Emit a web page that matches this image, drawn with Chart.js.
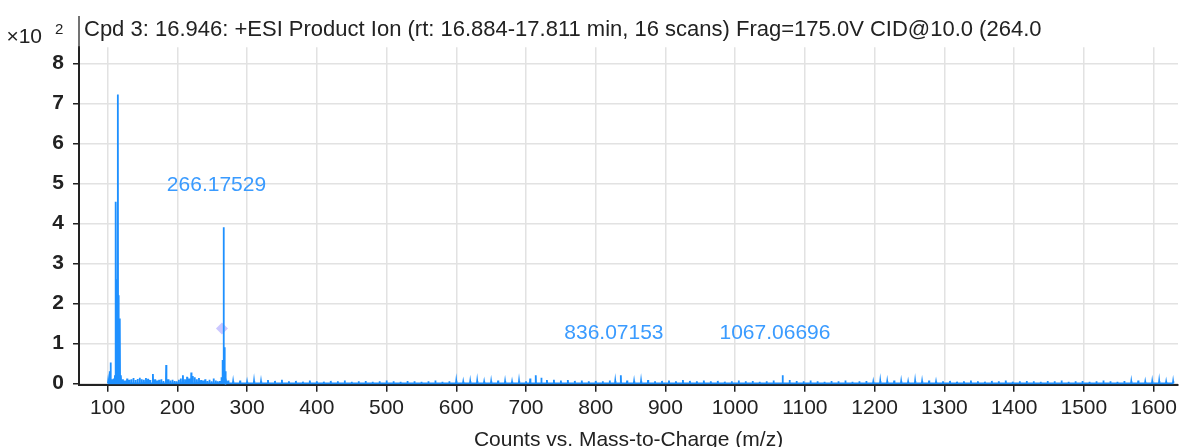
<!DOCTYPE html>
<html><head><meta charset="utf-8">
<script src="https://cdn.jsdelivr.net/npm/chart.js@4.4.1/dist/chart.umd.min.js"></script>
<style>html,body{margin:0;padding:0;background:#fff;overflow:hidden}#wrap{width:1184px;height:447px;position:relative}</style>
</head><body><div id="wrap"><canvas id="c" width="1184" height="447"></canvas></div>
<script>
const titleText = "Cpd 3: 16.946: +ESI Product Ion (rt: 16.884-17.811 min, 16 scans) Frag=175.0V CID@10.0 (264.0";
const xAxisTitle = "Counts vs. Mass-to-Charge (m/z)";
const yMultiplier = "\u00d710";
const yExponent = "2";

// spectrum sticks: m/z and intensity (x10^2 counts)
const spectrumMz = [
  100.8, 102.9, 104.3, 106.2, 108.5, 110.5, 111.8, 113.0, 114.7, 115.9, 117.5, 119.2,
  122, 125, 128, 131, 134, 137, 140, 143, 146, 149, 152, 155, 158, 161, 165, 168, 171, 174, 177, 180,
  184, 187, 190, 193, 196, 199, 202, 205, 208, 211, 214, 217, 220, 222, 225, 228, 231, 234, 237, 240,
  243, 246, 249, 252, 255, 258, 261, 263.2, 264.8, 266.2, 267.3, 268.6, 270, 273,
  280, 290, 300, 310, 320, 330, 340, 350, 360, 370, 380, 390, 400, 410, 420, 430, 440, 450, 460, 470,
  480, 490, 500, 510, 520, 530, 540, 550, 560, 570, 580, 590, 600, 610, 620, 630, 640, 650, 660, 670,
  680, 690, 700, 706, 714, 722, 730, 740, 750, 760, 770, 780, 790, 800, 810, 820, 828, 836, 845, 855,
  865, 875, 885, 895, 905, 915, 925, 935, 945, 955, 965, 975, 985, 995, 1005, 1015, 1025, 1035, 1045, 1055,
  1068, 1078, 1088, 1098, 1108, 1118, 1128, 1138, 1148, 1158, 1168, 1178, 1188, 1198, 1208, 1218, 1228, 1238, 1248, 1258,
  1268, 1278, 1288, 1298, 1308, 1318, 1328, 1338, 1348, 1358, 1368, 1378, 1388, 1398, 1408, 1418, 1428, 1438, 1448, 1458,
  1468, 1478, 1488, 1498, 1508, 1518, 1528, 1538, 1548, 1558, 1568, 1578, 1588, 1598, 1608, 1618, 1628
];
const spectrumIntensity = [
  0.06, 0.30, 0.52, 0.10, 0.12, 0.20, 4.54, 2.60, 7.22, 2.20, 1.62, 0.20,
  0.10, 0.07, 0.12, 0.09, 0.10, 0.13, 0.08, 0.11, 0.14, 0.10, 0.09, 0.13, 0.11, 0.08, 0.23, 0.10, 0.07, 0.09, 0.10, 0.06,
  0.46, 0.10, 0.07, 0.09, 0.06, 0.05, 0.09, 0.12, 0.20, 0.10, 0.16, 0.12, 0.27, 0.18, 0.15, 0.10, 0.13, 0.08, 0.07, 0.10,
  0.06, 0.09, 0.05, 0.12, 0.07, 0.05, 0.06, 0.15, 0.58, 3.90, 0.90, 0.30, 0.05, 0.07,
  0.05, 0.07, 0.04, 0.06, 0.05, 0.08, 0.06, 0.09, 0.05, 0.06, 0.04, 0.07, 0.05, 0.04, 0.06, 0.05, 0.07, 0.04, 0.05, 0.06,
  0.04, 0.05, 0.07, 0.05, 0.04, 0.06, 0.05, 0.04, 0.05, 0.07, 0.04, 0.05, 0.06, 0.04, 0.05, 0.06, 0.04, 0.05, 0.07, 0.05,
  0.04, 0.06, 0.05, 0.12, 0.20, 0.14, 0.08, 0.09, 0.07, 0.08, 0.06, 0.07, 0.05, 0.06, 0.05, 0.07, 0.06, 0.20, 0.07, 0.05,
  0.06, 0.08, 0.05, 0.06, 0.07, 0.05, 0.08, 0.06, 0.05, 0.07, 0.05, 0.06, 0.04, 0.05, 0.07, 0.05, 0.06, 0.04, 0.05, 0.07,
  0.20, 0.08, 0.06, 0.05, 0.07, 0.05, 0.04, 0.06, 0.05, 0.07, 0.04, 0.05, 0.06, 0.04, 0.06, 0.05, 0.07, 0.05, 0.04, 0.06,
  0.05, 0.07, 0.04, 0.05, 0.06, 0.04, 0.05, 0.07, 0.05, 0.04, 0.06, 0.05, 0.07, 0.04, 0.05, 0.06, 0.05, 0.04, 0.06, 0.05,
  0.07, 0.04, 0.05, 0.06, 0.04, 0.05, 0.07, 0.05, 0.04, 0.06, 0.05, 0.07, 0.04, 0.05, 0.06, 0.04, 0.05
];

// labelled peaks
const labelMz = [266.17529, 836.07153, 1067.06696];
const labelText = ["266.17529", "836.07153", "1067.06696"];
const labelPeakHeight = [3.90, 0.20, 0.20];

// precursor marker
const precursorMz = [264.0];
const precursorY = [1.37];

// axis ranges / ticks
const xMin = 59, xMax = 1635, xStep = 100;
const yMin = -0.035, yMax = 8.4, yStep = 1;

const FONT = "'Liberation Sans', Arial, Helvetica, sans-serif";
const BLUE = "#1e90ff";

const points = [];
spectrumMz.forEach((m, i) => {
  points.push({x: m - 0.4, y: 0});
  points.push({x: m, y: spectrumIntensity[i]});
  points.push({x: m + 0.4, y: 0});
});
const precursorPoints = precursorMz.map((m, i) => ({x: m, y: precursorY[i]}));

const decor = {
  id: 'decor',
  afterDraw(chart) {
    const ctx = chart.ctx;
    const xs = chart.scales.x, ys = chart.scales.y;
    ctx.save();
    ctx.fillStyle = '#222';
    ctx.font = '22px ' + FONT;
    ctx.textBaseline = 'middle';
    ctx.textAlign = 'left';
    ctx.fillText(titleText, 84, 30);
    ctx.strokeStyle = '#444';
    ctx.lineWidth = 1.5;
    ctx.beginPath(); ctx.moveTo(79, 16); ctx.lineTo(79, chart.chartArea.top); ctx.stroke();
    ctx.font = '21px ' + FONT;
    ctx.textAlign = 'right';
    ctx.fillText(yMultiplier, 42, 37);
    ctx.font = '15px ' + FONT;
    ctx.textAlign = 'left';
    ctx.fillText(yExponent, 55, 30);
    ctx.fillStyle = '#3a9bff';
    ctx.font = '21px ' + FONT;
    ctx.textAlign = 'center';
    labelMz.forEach((m, i) => {
      ctx.fillText(labelText[i], xs.getPixelForValue(m - 10), ys.getPixelForValue(labelPeakHeight[i] + 1.05));
    });
    ctx.restore();
  }
};

new Chart(document.getElementById('c'), {
  type: 'line',
  data: {
    datasets: [
      {
        data: precursorPoints,
        showLine: false,
        pointStyle: 'rectRot',
        pointRadius: 6,
        pointBackgroundColor: 'rgba(185,180,255,0.75)',
        pointBorderColor: 'rgba(185,180,255,0.75)',
        pointBorderWidth: 0,
        order: 2
      },
      {
        data: points,
        borderColor: BLUE,
        backgroundColor: BLUE,
        borderWidth: 1.8,
        fill: 'origin',
        pointRadius: 0,
        tension: 0,
        order: 1
      }
    ]
  },
  options: {
    responsive: false,
    animation: false,
    devicePixelRatio: 1,
    layout: {padding: {top: 47.3, left: 0, right: 0, bottom: 0}},
    plugins: {legend: {display: false}, tooltip: {enabled: false}},
    scales: {
      x: {
        type: 'linear',
        min: xMin, max: xMax,
        afterFit(s) { s.height = 62.3; },
        ticks: {stepSize: xStep, includeBounds: false, color: '#222', font: {family: FONT, size: 21}, padding: 4, maxRotation: 0, autoSkip: false,
          callback: v => String(v)},
        grid: {color: '#e2e2e2', lineWidth: 1.5, tickColor: '#222', tickLength: 7, tickWidth: 1.5},
        border: {color: '#222', width: 2},
        title: {display: true, text: xAxisTitle, color: '#222', font: {family: FONT, size: 21}, padding: {top: 0, bottom: -6}}
      },
      y: {
        min: yMin, max: yMax,
        afterFit(s) { s.width = 79; },
        ticks: {stepSize: yStep, includeBounds: false, color: '#222', font: {family: FONT, size: 21, weight: 'bold'}, padding: 9,
          callback: v => String(v)},
        grid: {color: '#e2e2e2', lineWidth: 1.5, tickColor: '#222', tickLength: 6, tickWidth: 1.5},
        border: {color: '#222', width: 2}
      }
    }
  },
  plugins: [decor]
});
</script>
</body></html>
